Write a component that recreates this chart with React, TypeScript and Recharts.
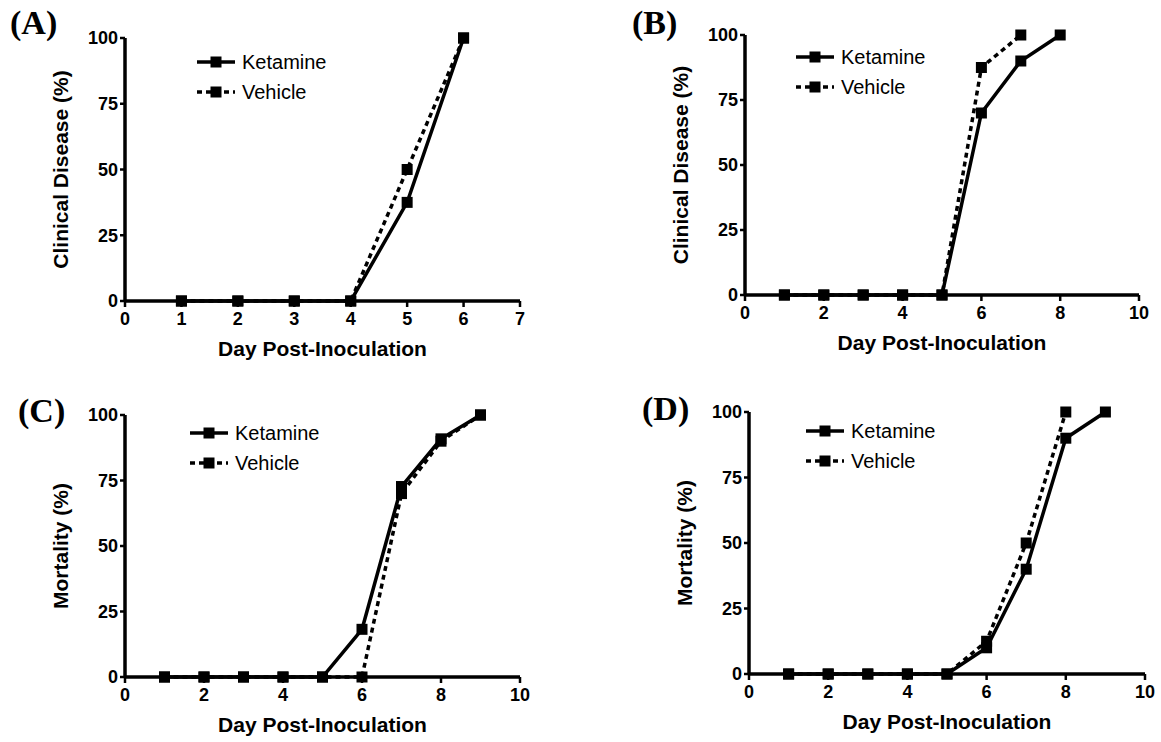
import React from 'react';
import { LineChart, Line, XAxis, YAxis, Legend } from 'recharts';

// ---------- data ----------
const seriesNames = ['Ketamine', 'Vehicle'];
const yTicks = [0, 25, 50, 75, 100];
const xTitle = 'Day Post-Inoculation';

const daysA = [1, 2, 3, 4, 5, 6];
const ketamineA = [0, 0, 0, 0, 37.5, 100];
const vehicleA = [0, 0, 0, 0, 50, 100];
const xTicksA = [0, 1, 2, 3, 4, 5, 6, 7];

const daysB = [1, 2, 3, 4, 5, 6, 7, 8];
const ketamineB = [0, 0, 0, 0, 0, 70, 90, 100];
const vehicleB = [0, 0, 0, 0, 0, 87.5, 100, null];
const xTicksB = [0, 2, 4, 6, 8, 10];

const daysC = [1, 2, 3, 4, 5, 6, 7, 8, 9];
const ketamineC = [0, 0, 0, 0, 0, 18.2, 72.7, 90.9, 100];
const vehicleC = [0, 0, 0, 0, 0, 0, 70, 90, 100];
const xTicksC = [0, 2, 4, 6, 8, 10];

const daysD = [1, 2, 3, 4, 5, 6, 7, 8, 9];
const ketamineD = [0, 0, 0, 0, 0, 10, 40, 90, 100];
const vehicleD = [0, 0, 0, 0, 0, 12.5, 50, 100, null];
const xTicksD = [0, 2, 4, 6, 8, 10];

const panelLetters = ['(A)', '(B)', '(C)', '(D)'];
const yTitles = ['Clinical Disease (%)', 'Clinical Disease (%)', 'Mortality (%)', 'Mortality (%)'];

// ---------- layout ----------
const SANS = '"Liberation Sans", Arial, Helvetica, sans-serif';
const SERIF = '"Liberation Serif", "Times New Roman", serif';

const panels = [
  { days: daysA, ket: ketamineA, veh: vehicleA, ticks: xTicksA, xMax: 7,
    x: 0, y: 0, w: 580, h: 371, yAxisW: 125, mt: 38, mr: 60, mb: 40,
    letterX: 10, letterY: 6, legX: 197, legY: 47 },
  { days: daysB, ket: ketamineB, veh: vehicleB, ticks: xTicksB, xMax: 10,
    x: 580, y: 0, w: 581, h: 371, yAxisW: 165, mt: 35, mr: 22, mb: 46,
    letterX: 52, letterY: 6, legX: 216, legY: 42 },
  { days: daysC, ket: ketamineC, veh: vehicleC, ticks: xTicksC, xMax: 10,
    x: 0, y: 371, w: 580, h: 371, yAxisW: 125, mt: 44, mr: 60, mb: 35,
    letterX: 18, letterY: 23, legX: 190, legY: 47 },
  { days: daysD, ket: ketamineD, veh: vehicleD, ticks: xTicksD, xMax: 10,
    x: 580, y: 371, w: 581, h: 371, yAxisW: 169, mt: 41, mr: 16, mb: 38,
    letterX: 62, letterY: 21, legX: 226, legY: 45 },
];

const Square = (props: any) => {
  const { cx, cy, index, value } = props;
  if (cx == null || cy == null || value == null) return <g key={`e-${index}`} />;
  return <rect key={`s-${index}`} x={cx - 5.5} y={cy - 5.5} width={11} height={11} fill="#000" />;
};

const renderLegend = () => (
  <div style={{ fontFamily: SANS, fontSize: 20, color: '#000' }}>
    {seriesNames.map((n, i) => (
      <div key={n} style={{ display: 'flex', alignItems: 'center', height: 30, whiteSpace: 'nowrap' }}>
        <svg width={38} height={14} style={{ display: 'block' }}>
          <line x1={0} y1={7} x2={38} y2={7} stroke="#000" strokeWidth={3.5}
            strokeDasharray={i === 1 ? '5 4' : undefined} />
          <rect x={13.5} y={1.5} width={11} height={11} fill="#000" />
        </svg>
        <span style={{ marginLeft: 7 }}>{n}</span>
      </div>
    ))}
  </div>
);

function Panel({ cfg, idx }: { cfg: any; idx: number }) {
  const data = cfg.days.map((d: number, i: number) => ({
    day: d,
    ketamine: cfg.ket[i],
    vehicle: cfg.veh[i],
  }));
  const tickStyle = { fill: '#000', fontSize: 18, fontWeight: 700, fontFamily: SANS };
  const xLabel = (p: any) => {
    const vb = p.viewBox || {};
    return (
      <text x={vb.x + vb.width / 2} y={vb.y + 55} textAnchor="middle" fontFamily={SANS}
        fontWeight={700} fontSize={21} fill="#000">{xTitle}</text>
    );
  };
  const yLabel = (p: any) => {
    const vb = p.viewBox || {};
    const cx = vb.x + vb.width - 57;
    const cy = vb.y + vb.height / 2;
    return (
      <text x={cx} y={cy} transform={`rotate(-90 ${cx} ${cy})`} textAnchor="middle"
        fontFamily={SANS} fontWeight={700} fontSize={21} fill="#000">{yTitles[idx]}</text>
    );
  };
  return (
    <div style={{ position: 'absolute', left: cfg.x, top: cfg.y, width: cfg.w, height: cfg.h }}>
      <div style={{ position: 'absolute', left: cfg.letterX, top: cfg.letterY, fontFamily: SERIF,
        fontWeight: 700, fontSize: 34, color: '#000', lineHeight: '34px' }}>{panelLetters[idx]}</div>
      <LineChart width={cfg.w} height={cfg.h} data={data}
        margin={{ top: cfg.mt, right: cfg.mr, bottom: cfg.mb, left: 0 }}>
        <XAxis dataKey="day" type="number" domain={[0, cfg.xMax]} ticks={cfg.ticks} interval={0}
          height={30} axisLine={{ stroke: '#000', strokeWidth: 3.5 }}
          tickLine={{ stroke: '#000', strokeWidth: 2.5 }} tickSize={6} tickMargin={5}
          tick={tickStyle} label={xLabel} />
        <YAxis type="number" domain={[0, 100]} ticks={yTicks} interval={0} width={cfg.yAxisW}
          axisLine={{ stroke: '#000', strokeWidth: 3.5 }}
          tickLine={{ stroke: '#000', strokeWidth: 2.5 }} tickSize={5} tickMargin={2}
          tick={tickStyle} label={yLabel} />
        <Legend layout="vertical" align="center" verticalAlign="middle" content={renderLegend}
          wrapperStyle={{ left: cfg.legX, top: cfg.legY, width: 170 }} />
        <Line dataKey="vehicle" name={seriesNames[1]} stroke="#000" strokeWidth={3.5}
          strokeDasharray="5 4" dot={Square} activeDot={false} isAnimationActive={false} />
        <Line dataKey="ketamine" name={seriesNames[0]} stroke="#000" strokeWidth={3.5}
          dot={Square} activeDot={false} isAnimationActive={false} />
      </LineChart>
    </div>
  );
}

export default function App() {
  return (
    <div style={{ position: 'absolute', left: 0, top: 0, width: 1161, height: 742, background: '#fff' }}>
      {panels.map((p, i) => <Panel key={i} cfg={p} idx={i} />)}
    </div>
  );
}
